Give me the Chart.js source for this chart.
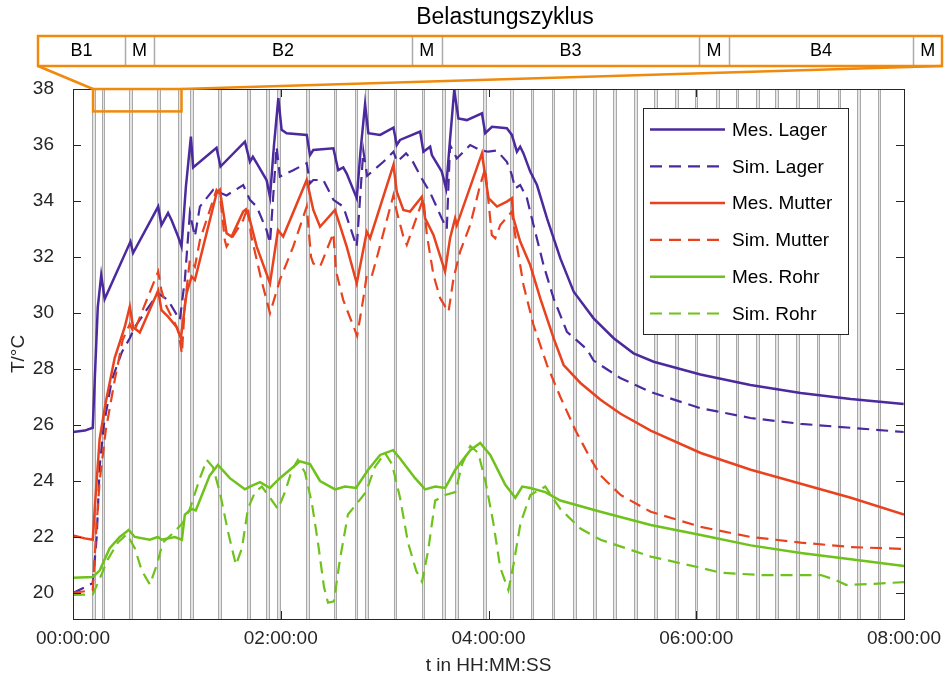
<!DOCTYPE html>
<html>
<head>
<meta charset="utf-8">
<script src="https://cdn.jsdelivr.net/npm/chart.js@4.4.1/dist/chart.umd.min.js"></script>
<style>
body { margin: 0; background: #fff; }
</style>
</head>
<body>
<canvas id="myChart" width="949" height="680"></canvas>
<script>
// each point: [time in minutes, temperature in °C]
let lagerMes = [[0,25.75],[6.8,25.8],[11.4,25.9],[12.5,27.5],[14.3,30.2],[16.3,31.35],[18.3,30.5],[33.2,32.55],[34.7,32.14],
  [49.2,33.8],[51.1,33.14],[54.9,33.57],[56.9,33.32],[60.7,32.73],[62.7,32.37],[65.2,34.5],[68.1,36.3],[69.4,35.2],
  [82.9,35.9],[85.2,35.23],[99.3,36.12],[102.2,35.4],[103.9,35.58],[106.1,35.35],[111.8,34.75],[113.8,34.15],
  [116.1,36.0],[118.6,37.67],[120.5,36.54],[123.4,36.42],[135.0,36.36],[136.9,35.64],[138.8,35.82],[150.4,35.88],
  [153.2,35.1],[156.1,35.2],[158.1,34.98],[163.9,34.1],[166.1,35.8],[168.7,37.45],[170.6,36.42],[177.4,36.36],
  [185.1,36.62],[187.0,36.0],[188.9,36.18],[200.5,36.48],[202.4,35.76],[206.3,35.94],[207.3,35.64],[213.0,35.05],
  [215.5,34.45],[217.8,36.2],[220.2,37.96],[222.6,36.95],[227.5,36.89],[236.2,37.13],[238.1,36.42],[242.0,36.65],
  [250.6,36.6],[253.5,36.36],[256.4,35.76],[258.3,35.94],[260.2,35.7],[264.1,35.05],[268.0,34.57],[273.8,33.38],
  [281.5,31.95],[289.2,30.76],[300.7,29.81],[312.3,29.1],[323.8,28.56],[335.4,28.26],[362.4,27.8],[391.3,27.43],
  [420.3,27.14],[449.2,26.93],[479.8,26.75]];
let lagerSim = [[0,20.0],[6.8,20.2],[11.4,20.35],[13.7,22.0],[15.4,24.5],[17.8,26.0],[22.4,27.6],[28.2,28.6],[32.8,29.1],
  [35.7,29.5],[42.4,30.1],[49.2,30.7],[54.9,30.46],[61.7,29.75],[64.6,31.18],[67.5,33.57],[70.4,32.73],[73.3,33.8],
  [81.0,34.4],[88.7,34.2],[98.3,34.57],[102.2,34.04],[106.1,33.8],[111.8,32.96],[113.8,32.49],[117.6,35.94],
  [119.5,34.87],[127.2,35.1],[135.0,35.35],[136.9,34.63],[138.8,34.75],[144.6,34.75],[150.4,34.04],[156.1,33.8],
  [163.9,32.37],[167.7,35.8],[169.9,34.9],[179.3,35.4],[185.1,35.76],[187.2,35.4],[192.4,35.7],[195.9,35.45],
  [201.5,34.8],[206.3,34.3],[213.0,33.38],[215.9,33.0],[217.8,36.0],[221.7,35.52],[229.4,36.0],[235.2,35.82],
  [239.8,35.76],[244.8,35.8],[250.6,35.4],[253.5,34.93],[255.4,34.45],[258.3,34.57],[262.2,34.1],[266.0,33.14],
  [271.8,31.71],[277.6,30.52],[285.3,29.33],[296.9,28.7],[300.7,28.3],[316.1,27.68],[333.4,27.18],[362.4,26.6],
  [391.3,26.25],[420.3,26.04],[449.2,25.9],[479.8,25.75]];
let mutterMes = [[0,22.05],[6.8,21.95],[11.4,21.9],[13.1,23.5],[15.4,25.5],[18.9,26.8],[24.1,28.4],[29.9,29.5],
  [32.8,30.23],[34.7,29.5],[38.6,29.3],[49.2,30.8],[51.1,30.1],[54.9,29.87],[59.8,29.5],[62.3,29.1],[65.6,30.7],
  [68.5,31.3],[70.4,31.18],[82.9,34.27],[84.8,34.4],[88.7,32.85],[91.6,32.73],[98.3,33.62],[99.9,33.7],[102.2,33.32],
  [106.1,32.37],[113.8,31.06],[118.4,32.96],[121.4,32.73],[135.0,34.75],[138.8,33.68],[142.7,33.08],[151.3,33.68],
  [153.2,33.32],[158.1,32.37],[163.9,31.06],[169.7,32.9],[171.6,32.67],[185.1,35.29],[187.0,34.33],[190.8,33.68],
  [194.7,33.62],[201.5,34.15],[203.4,33.38],[208.2,32.79],[214.9,31.48],[217.8,32.67],[220.7,33.38],[221.7,33.14],
  [236.2,35.7],[240.0,34.1],[244.9,33.8],[250.6,33.98],[253.5,34.1],[254.4,33.38],[258.3,32.55],[264.1,31.71],
  [269.9,30.52],[277.6,29.1],[283.4,28.14],[293.1,27.5],[304.7,26.9],[316.3,26.4],[333.7,25.8],[362.6,25.0],
  [391.5,24.4],[420.4,23.9],[449.3,23.4],[480,22.8]];
let mutterSim = [[0,20.0],[11.4,20.1],[13.7,22.5],[15.4,24.0],[18.9,25.8],[24.1,27.6],[28.7,29.04],[32.8,29.6],
  [35.1,29.3],[41.5,30.3],[49.2,31.48],[51.1,30.8],[54.0,30.23],[60.7,29.4],[62.9,28.55],[64.6,30.3],[67.5,31.9],
  [70.4,31.65],[73.3,32.6],[82.9,34.4],[84.8,34.27],[87.7,32.6],[88.7,32.37],[98.3,33.32],[101.0,33.8],[102.8,32.8],
  [108.8,31.18],[113.8,29.99],[119.5,31.18],[127.2,32.37],[135.0,33.8],[137.5,32.0],[138.8,31.77],[142.7,31.65],
  [150.4,32.85],[151.9,31.5],[156.1,30.46],[164.1,29.18],[167.7,30.52],[169.7,31.36],[172.5,31.3],[175.4,31.95],
  [185.1,34.21],[187.0,33.62],[190.8,32.73],[192.8,32.43],[202.4,34.1],[204.4,32.79],[208.2,31.36],[212.1,30.52],
  [216.9,30.04],[219.8,31.24],[223.6,32.19],[229.4,33.14],[235.2,34.57],[238.1,35.17],[241.9,32.79],[243.9,32.67],
  [246.8,33.14],[253.5,33.62],[255.4,32.79],[260.2,31.0],[266.0,29.57],[273.8,28.14],[281.5,27.0],[290.3,25.8],
  [298.9,24.8],[304.7,24.2],[316.3,23.5],[333.7,22.9],[362.6,22.36],[391.5,22.0],[420.4,21.8],[449.3,21.64],[480,21.57]];
let rohrMes = [[0,20.54],[11.4,20.57],[15.4,20.8],[21.2,21.6],[27.0,22.0],[32.2,22.25],[35.7,22.0],[44.4,21.9],
  [49.0,22.0],[51.3,21.9],[58.8,22.0],[62.9,21.9],[64.6,22.8],[68.6,23.0],[70.9,22.95],[79.0,24.2],[83.7,24.57],
  [90.6,24.1],[99.3,23.7],[102.2,23.8],[108.0,23.96],[113.8,23.75],[119.5,24.1],[125.3,24.4],[131.1,24.7],
  [136.9,24.6],[142.7,24.0],[151.4,23.7],[157.1,23.8],[163.5,23.75],[170.5,24.4],[177.4,24.93],[184.9,25.1],
  [188.9,24.8],[197.6,24.1],[203.4,23.7],[209.2,23.8],[215.0,23.75],[220.8,24.4],[229.5,25.1],[235.2,25.36],
  [241.0,24.93],[249.7,23.86],[255.5,23.4],[259.5,23.8],[264.1,23.75],[272.8,23.6],[281.5,23.3],[304.7,22.9],
  [333.7,22.43],[362.6,22.07],[391.5,21.7],[420.4,21.43],[449.3,21.2],[480,20.96]];
let rohrSim = [[0,19.93],[11.4,19.95],[15.4,20.5],[20.1,21.2],[25.9,21.8],[31.1,22.1],[35.7,21.6],[39.7,20.8],
  [44.4,20.3],[48.4,21.0],[51.9,21.8],[58.8,22.2],[63.4,22.5],[67.5,23.0],[73.3,24.1],[77.3,24.75],[80.8,24.5],
  [84.8,23.6],[89.5,22.2],[94.1,21.0],[97.6,21.6],[101.0,23.0],[105.1,23.6],[109.1,23.8],[113.8,23.4],[118.4,23.0],
  [122.4,23.6],[126.5,24.4],[129.9,24.75],[134.0,24.3],[138.0,23.2],[141.5,21.8],[145.0,20.2],[147.3,19.65],
  [150.7,19.7],[154.2,21.2],[158.8,22.8],[164.0,23.2],[169.2,23.6],[174.4,24.5],[180.2,25.0],[184.3,24.6],
  [188.9,23.4],[193.5,21.8],[198.2,20.8],[201.6,20.4],[205.1,21.5],[209.2,23.3],[215.0,23.5],[220.8,23.6],
  [224.8,24.6],[229.5,25.25],[234.1,25.0],[238.2,24.0],[242.8,22.5],[246.8,20.9],[251.5,20.1],[254.4,21.0],
  [258.5,22.5],[264.2,23.5],[272.8,23.8],[281.5,23.0],[293.1,22.3],[304.7,21.9],[333.7,21.3],[362.6,20.9],
  [374.2,20.72],[397.3,20.64],[432.0,20.64],[440.7,20.46],[446.5,20.29],[461.0,20.32],[480,20.39]];

// centres of the measurement phases (M), in minutes
let mPhases = [12.0, 17.3, 33.2, 49.6, 61.7, 68.5, 84.8, 101.2, 112.2, 118.6, 135.3, 151.4, 163.5, 169.7,
  186.0, 202.1, 214.0, 221.3, 237.5, 253.5, 265.1, 277.2, 289.5, 301.3, 312.7, 324.8, 336.6, 348.5, 359.8,
  372.1, 383.6, 395.2, 406.4, 418.3, 430.3, 442.4, 453.6, 465.5];
// one load cycle, shown enlarged above the plot
let cycleLabels = ['B1', 'M', 'B2', 'M', 'B3', 'M', 'B4', 'M'];
let cycleBounds = [11.57, 16.49, 18.13, 32.72, 34.40, 48.97, 50.63, 61.07, 62.69];
let xTicks = [0, 120, 240, 360, 480];
let yTicks = [20, 22, 24, 26, 28, 30, 32, 34, 36, 38];

const PURPLE = '#4b2a9e', RED = '#e8421e', GREEN = '#6ec21b', ORANGE = '#f08a0c';
const FONT = "'Liberation Sans', Arial, sans-serif";
const INK = '#262626';

function pts(arr) { return arr.map(p => ({x: p[0], y: p[1]})); }
function pad(n) { return String(n).padStart(2, '0'); }
function hms(m) { return pad(Math.floor(m / 60)) + ':' + pad(Math.round(m % 60)) + ':00'; }

function series(label, arr, color, dashed, i) {
    return {
        label: label,
        data: pts(arr),
        borderColor: color,
        backgroundColor: color,
        borderWidth: dashed ? 2.2 : 2.5,
        borderDash: dashed ? [12, 7] : [],
        pointRadius: 0,
        tension: 0,
        fill: false,
        order: 5 - i
    };
}

let phaseLines = {
    id: 'phaseLines',
    beforeDatasetsDraw(chart) {
        let {ctx, chartArea: a, scales: {x}} = chart;
        ctx.save();
        mPhases.forEach(c => {
            let x1 = Math.round(x.getPixelForValue(c - 0.8)) + 0.5;
            let x2 = Math.round(x.getPixelForValue(c + 0.8)) + 0.5;
            ctx.fillStyle = '#e4e4e4';
            ctx.fillRect(x1, a.top, x2 - x1, a.bottom - a.top);
            ctx.strokeStyle = '#a9a9a9';
            ctx.lineWidth = 1;
            [x1, x2].forEach(p => {
                ctx.beginPath(); ctx.moveTo(p, a.top); ctx.lineTo(p, a.bottom); ctx.stroke();
            });
        });
        ctx.restore();
    }
};

let frame = {
    id: 'frame',
    afterDatasetsDraw(chart) {
        let {ctx, chartArea: a, scales: {x, y}} = chart;
        ctx.save();
        ctx.strokeStyle = INK;
        ctx.lineWidth = 1;
        ctx.strokeRect(Math.round(a.left) + 0.5, Math.round(a.top) + 0.5,
            Math.round(a.right - a.left), Math.round(a.bottom - a.top));
        ctx.beginPath();
        yTicks.forEach(v => {
            let py = Math.round(y.getPixelForValue(v)) + 0.5;
            ctx.moveTo(a.left, py); ctx.lineTo(a.left + 8, py);
            ctx.moveTo(a.right, py); ctx.lineTo(a.right - 8, py);
        });
        xTicks.forEach(v => {
            let px = Math.round(x.getPixelForValue(v)) + 0.5;
            ctx.moveTo(px, a.bottom); ctx.lineTo(px, a.bottom - 8);
            ctx.moveTo(px, a.top); ctx.lineTo(px, a.top + 8);
        });
        ctx.stroke();
        ctx.restore();
    }
};

let extras = {
    id: 'extras',
    afterDraw(chart) {
        let {ctx, chartArea: a, scales: {x, y}} = chart;
        ctx.save();

        // axis titles
        ctx.fillStyle = INK;
        ctx.font = '19px ' + FONT;
        ctx.textAlign = 'center';
        ctx.textBaseline = 'middle';
        ctx.fillText('t in HH:MM:SS', (a.left + a.right) / 2, 666);
        ctx.save();
        ctx.translate(19, (a.top + a.bottom) / 2);
        ctx.rotate(-Math.PI / 2);
        ctx.fillText('T/°C', 0, 0);
        ctx.restore();

        // legend box
        let lx = 643, ly = 108, lw = 205, lh = 226;
        ctx.fillStyle = '#fff';
        ctx.fillRect(lx, ly, lw, lh);
        ctx.strokeStyle = INK;
        ctx.lineWidth = 1;
        ctx.strokeRect(lx + 0.5, ly + 0.5, lw, lh);
        chart.data.datasets.forEach((ds, i) => {
            let ry = 129.5 + i * 36.8;
            ctx.strokeStyle = ds.borderColor;
            ctx.lineWidth = ds.borderWidth;
            ctx.setLineDash(ds.borderDash);
            ctx.beginPath(); ctx.moveTo(650, ry); ctx.lineTo(725, ry); ctx.stroke();
            ctx.setLineDash([]);
            ctx.fillStyle = '#000';
            ctx.textAlign = 'left';
            ctx.fillText(ds.label, 732, ry + 1);
        });

        // load cycle band
        let b = {left: 38, right: 942, top: 36, bottom: 66};
        let t0 = cycleBounds[0], t1 = cycleBounds[cycleBounds.length - 1];
        let bx = t => b.left + (t - t0) / (t1 - t0) * (b.right - b.left);
        ctx.fillStyle = '#000';
        ctx.textAlign = 'center';
        ctx.font = '23px ' + FONT;
        ctx.fillText('Belastungszyklus', 505, 18);
        ctx.font = '18px ' + FONT;
        ctx.strokeStyle = '#ababab';
        ctx.lineWidth = 1.5;
        for (let i = 1; i < cycleBounds.length - 1; i++) {
            let px = Math.round(bx(cycleBounds[i])) + 0.5;
            ctx.beginPath(); ctx.moveTo(px, b.top); ctx.lineTo(px, b.bottom); ctx.stroke();
        }
        cycleLabels.forEach((lab, i) => {
            ctx.fillText(lab, (bx(cycleBounds[i]) + bx(cycleBounds[i + 1])) / 2, 51.5);
        });
        ctx.strokeStyle = ORANGE;
        ctx.lineWidth = 2.5;
        ctx.strokeRect(b.left, b.top, b.right - b.left, b.bottom - b.top);
        let zx0 = x.getPixelForValue(t0), zx1 = x.getPixelForValue(t1);
        let zy0 = y.getPixelForValue(38), zy1 = y.getPixelForValue(37.2);
        ctx.beginPath();
        ctx.moveTo(b.left, b.bottom); ctx.lineTo(zx0, zy0);
        ctx.moveTo(b.right, b.bottom); ctx.lineTo(zx1, zy0);
        ctx.stroke();
        ctx.strokeRect(zx0, zy0, zx1 - zx0, zy1 - zy0);
        ctx.restore();
    }
};

let ctx = document.getElementById('myChart').getContext('2d');
let chart = new Chart(ctx, {
    type: 'line',
    data: {
        datasets: [
            series('Mes. Lager', lagerMes, PURPLE, false, 0),
            series('Sim. Lager', lagerSim, PURPLE, true, 1),
            series('Mes. Mutter', mutterMes, RED, false, 2),
            series('Sim. Mutter', mutterSim, RED, true, 3),
            series('Mes. Rohr', rohrMes, GREEN, false, 4),
            series('Sim. Rohr', rohrSim, GREEN, true, 5)
        ]
    },
    options: {
        responsive: false,
        animation: false,
        events: [],
        layout: { padding: { left: 0, top: 89, right: 45, bottom: 0 } },
        plugins: { legend: { display: false }, tooltip: { enabled: false } },
        scales: {
            x: {
                type: 'linear',
                min: 0,
                max: 480,
                grid: { display: false },
                border: { display: false },
                afterBuildTicks: s => { s.ticks = xTicks.map(v => ({value: v})); },
                afterFit: s => { s.height = 61; },
                ticks: {
                    font: { family: FONT, size: 19 },
                    color: INK,
                    padding: 0,
                    maxRotation: 0,
                    autoSkip: false,
                    callback: v => hms(v)
                }
            },
            y: {
                min: 19.07,
                max: 38,
                grid: { display: false },
                border: { display: false },
                afterBuildTicks: s => { s.ticks = yTicks.map(v => ({value: v})); },
                afterFit: s => { s.width = 73; },
                ticks: {
                    font: { family: FONT, size: 19 },
                    color: INK,
                    padding: 11
                }
            }
        }
    },
    plugins: [phaseLines, frame, extras]
});
</script>
</body>
</html>
